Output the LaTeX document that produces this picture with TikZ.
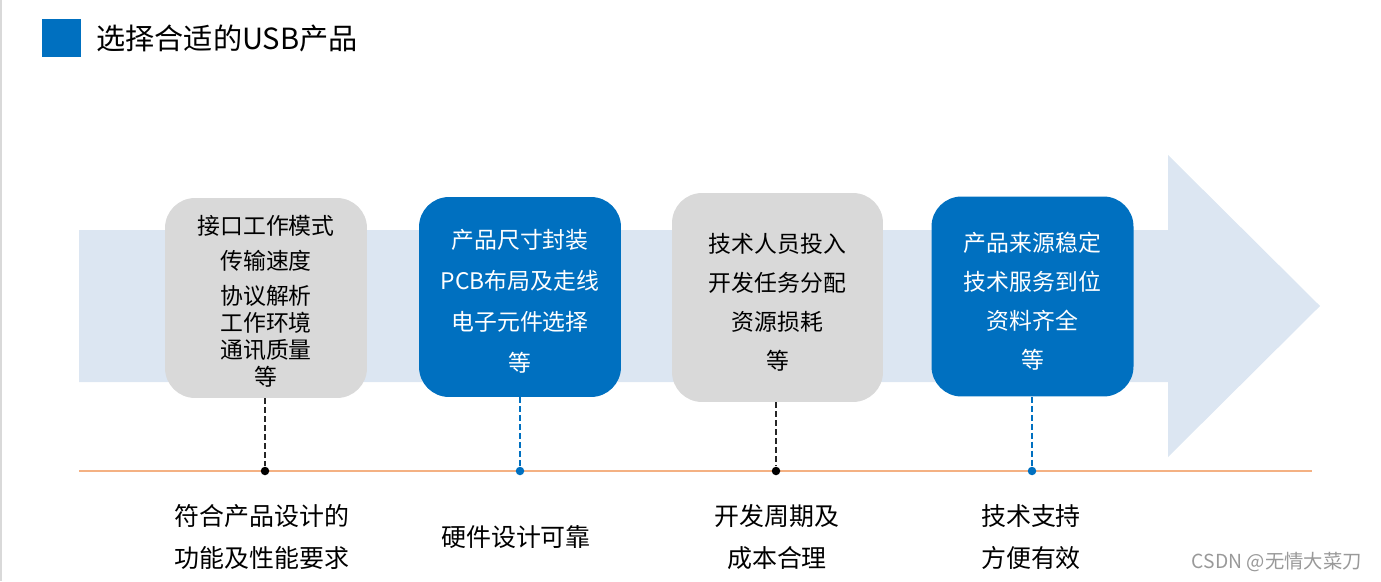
\documentclass[tikz,border=0pt]{standalone}
\usepackage{fontspec}
\newfontfamily\cjk{Noto Sans CJK SC}
\usetikzlibrary{positioning}
\definecolor{mainblue}{HTML}{0070C0}
\definecolor{bandblue}{HTML}{DCE6F2}
\definecolor{boxgray}{HTML}{D9D9D9}
\definecolor{lineorange}{HTML}{F4B183}
\tikzset{
    %Define style for boxes
    graybox/.style={
           rectangle,
           rounded corners=0.6cm,
           fill=boxgray,
           minimum width=4.04cm,
           minimum height=4cm},
    bluebox/.style={
           graybox,
           fill=mainblue},
    boxtext/.style={
           align=center,
           inner sep=0pt,
           yshift=-0.09cm},
    % Define connector and dot style
    drop/.style={
           line width=0.8pt,
           dash pattern=on 3.4pt off 1.7pt},
    tickdot/.style={
           circle,
           inner sep=0pt,
           minimum size=0.17cm},
    below text/.style={
           align=center,
           font=\cjk\fontsize{14.2}{24.4}\selectfont}
}

\begin{document}
\begin{tikzpicture}[x=0.02cm, y=-0.02cm]
\useasboundingbox (0,0) rectangle (1381,581);
\fill[black!15] (0,0) rectangle (2,581);

% title
\fill[mainblue] (42,19) rectangle (81,57);
\node[anchor=west, inner sep=0pt, font=\cjk\fontsize{16.6}{18}\selectfont](title) at (96,38){选择合适的USB产品};

% big arrow
\fill[bandblue] (79,230) -- (1168,230) -- (1168,155) -- (1320,306)
    -- (1168,457) -- (1168,382) -- (79,382) -- cycle;

% boxes
\node[graybox](1) at (266,298){};
\node[bluebox](2) at (520,297){};
\node[graybox, minimum width=4.22cm, minimum height=4.18cm](3) at (777.5,297.5){};
\node[bluebox](4) at (1032.5,296.5){};

\node[boxtext, yshift=0.02cm, font=\cjk\fontsize{13}{15.4}\selectfont](t1) at (1){接口工作模式\\[4.5pt]传输速度\\[4.5pt]协议解析\\工作环境\\通讯质量\\等};
\node[boxtext, text=white, font=\cjk\fontsize{13}{23.3}\selectfont](t2) at (2){产品尺寸封装\\PCB布局及走线\\电子元件选择\\等};
\node[boxtext, font=\cjk\fontsize{13}{22.2}\selectfont](t3) at (3){技术人员投入\\开发任务分配\\资源损耗\\等};
\node[boxtext, text=white, font=\cjk\fontsize{13}{22.2}\selectfont](t4) at (4){产品来源稳定\\技术服务到位\\资料齐全\\等};

% time line
\coordinate (l0) at (79,471);
\coordinate (l1) at (1312,471);
\draw[lineorange, line width=1.1pt] (l0) -- (l1);

\node[tickdot, fill=black](d1) at (265,471){};
\node[tickdot, fill=mainblue](d2) at (520,471){};
\node[tickdot, fill=black](d3) at (776,471){};
\node[tickdot, fill=mainblue](d4) at (1032,471){};

\draw[drop, black!85] (1.south -| d1) -- (d1);
\draw[drop, mainblue] (2.south -| d2) -- (d2);
\draw[drop, black!85] (3.south -| d3) -- (d3);
\draw[drop, mainblue] (4.south -| d4) -- (d4);

% results
\node[below text](r1) at (262,537){符合产品设计的\\功能及性能要求};
\node[below text](r2) at (516,537){硬件设计可靠};
\node[below text](r3) at (777,537){开发周期及\\成本合理};
\node[below text](r4) at (1031,537){技术支持\\方便有效};

\node[anchor=east, text=black!40, font=\cjk\fontsize{11}{13}\selectfont](mark) at (1368,562){CSDN @无情大菜刀};
\end{tikzpicture}
\end{document}
